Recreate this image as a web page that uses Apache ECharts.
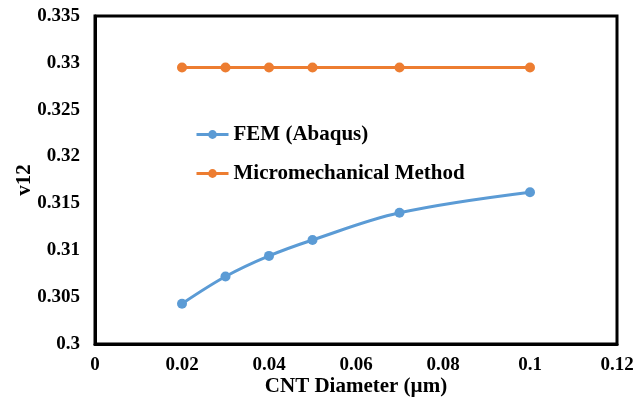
<!DOCTYPE html>
<html><head><meta charset="utf-8">
<script src="https://cdn.jsdelivr.net/npm/echarts@6/dist/echarts.min.js"></script>
<style>html,body{margin:0;padding:0;background:#fff}#c{width:644px;height:404px}</style>
</head><body><div id="c"></div>
<script>
const diameters = [0.02, 0.03, 0.04, 0.05, 0.07, 0.1];
const femValues = [0.3043, 0.3072, 0.3094, 0.3111, 0.3140, 0.3162];
const microValues = [0.3295, 0.3295, 0.3295, 0.3295, 0.3295, 0.3295];
const seriesNames = ['FEM (Abaqus)', 'Micromechanical Method'];

const font = 'Liberation Serif';
const chart = echarts.init(document.getElementById('c'));
chart.setOption({
  animation: false,
  backgroundColor: '#fff',
  grid: {left: 95, right: 27, top: 16, bottom: 60, show: true, borderColor: '#000', borderWidth: 3,
         containLabel: false, outerBoundsMode: 'none'},
  legend: {
    orient: 'vertical', left: 190, top: 119, itemGap: 18, itemWidth: 32, itemHeight: 11,
    lineStyle: {width: 3},
    textStyle: {fontFamily: font, fontWeight: 'bold', fontSize: 21, color: '#000'},
    data: seriesNames
  },
  xAxis: {
    type: 'value', min: 0, max: 0.12, interval: 0.02,
    name: 'CNT Diameter (µm)', nameLocation: 'middle', nameGap: 32, nameMoveOverlap: false,
    nameTextStyle: {fontFamily: font, fontWeight: 'bold', fontSize: 21, color: '#000'},
    axisLine: {show: true, lineStyle: {color: '#000', width: 3}},
    axisTick: {show: false}, splitLine: {show: false},
    axisLabel: {fontFamily: font, fontWeight: 'bold', fontSize: 19, color: '#000', margin: 12,
      formatter: v => String(+v.toFixed(2))}
  },
  yAxis: {
    type: 'value', min: 0.3, max: 0.335, interval: 0.005,
    name: 'v12', nameLocation: 'middle', nameGap: 60, nameRotate: 90, nameMoveOverlap: false,
    nameTextStyle: {fontFamily: font, fontWeight: 'bold', fontSize: 21, color: '#000'},
    axisLine: {show: true, lineStyle: {color: '#000', width: 3}},
    axisTick: {show: false}, splitLine: {show: false},
    axisLabel: {fontFamily: font, fontWeight: 'bold', fontSize: 19, color: '#000', margin: 15,
      formatter: v => String(+v.toFixed(3))}
  },
  series: [
    {name: seriesNames[0], type: 'line', smooth: 0.35, data: diameters.map((x, i) => [x, femValues[i]]),
     color: '#5B9BD5', lineStyle: {width: 3}, symbol: 'circle', symbolSize: 10},
    {name: seriesNames[1], type: 'line', data: diameters.map((x, i) => [x, microValues[i]]),
     color: '#ED7D31', lineStyle: {width: 3}, symbol: 'circle', symbolSize: 10}
  ]
});
</script></body></html>
